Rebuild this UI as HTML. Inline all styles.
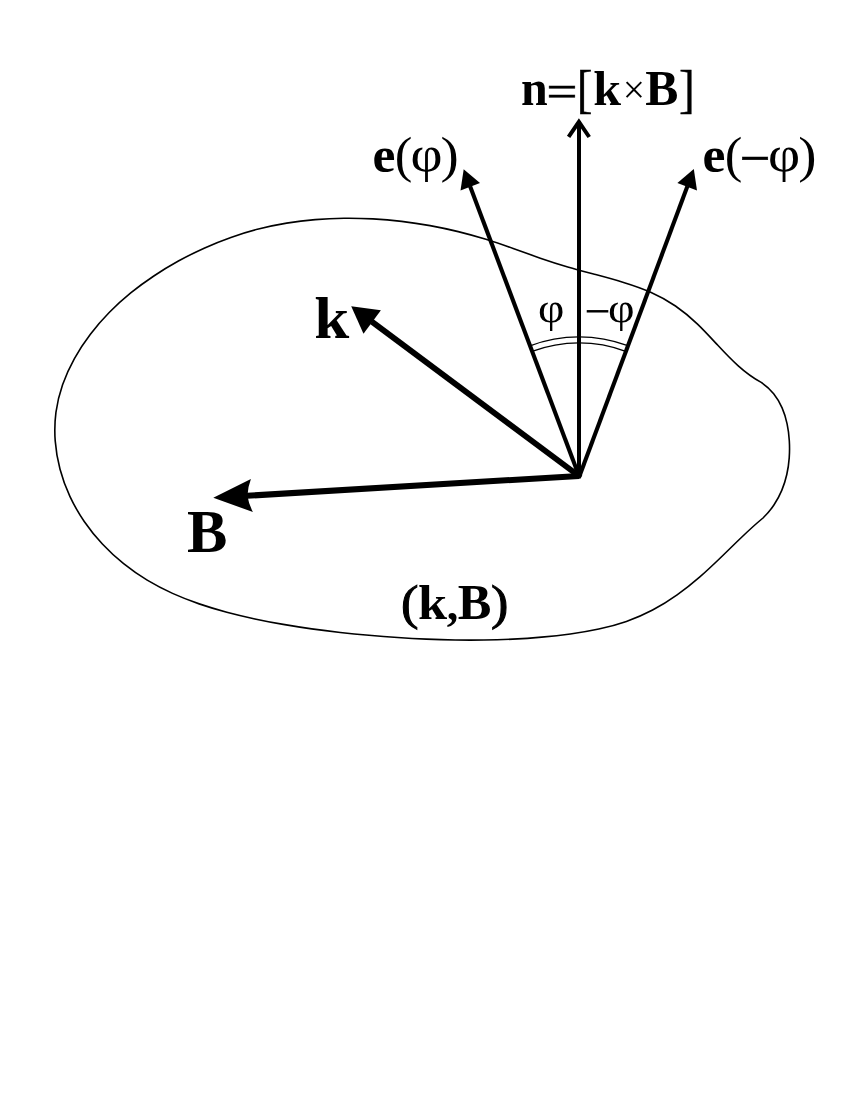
<!DOCTYPE html>
<html lang="en"><head><meta charset="utf-8"><title>Figure</title>
<style>
html,body{margin:0;padding:0;background:#fff;}
body{width:850px;height:1100px;overflow:hidden;}
svg{display:block;filter:grayscale(1);}
text{font-family:"Liberation Serif","DejaVu Serif",serif;fill:#000;}
</style></head><body>
<svg width="850" height="1100" viewBox="0 0 850 1100">
<rect width="850" height="1100" fill="#fff"/>
<path d="M763.00,518.00C755.60,524.13 748.55,530.60 741.63,537.21C734.70,543.82 727.90,550.56 721.02,557.24C714.13,563.92 707.14,570.53 699.85,576.87C692.56,583.21 684.98,589.27 677.10,594.87C669.23,600.47 661.06,605.60 652.60,610.07C644.15,614.55 635.39,618.31 626.39,621.42C617.39,624.53 608.16,627.03 598.79,629.06C589.42,631.10 579.91,632.69 570.35,633.98C560.78,635.28 551.18,636.30 541.59,637.15C531.99,638.00 522.39,638.66 512.79,639.14C503.19,639.62 493.59,639.92 483.99,640.07C474.39,640.21 464.79,640.20 455.19,640.04C445.59,639.89 436.00,639.59 426.41,639.17C416.82,638.75 407.23,638.21 397.65,637.56C388.07,636.91 378.50,636.15 368.94,635.30C359.37,634.45 349.82,633.51 340.28,632.44C330.74,631.37 321.21,630.19 311.70,628.86C302.20,627.52 292.71,626.04 283.24,624.40C273.77,622.75 264.33,620.93 254.92,618.91C245.50,616.89 236.11,614.69 226.80,612.22C217.49,609.74 208.27,606.99 199.20,603.88C190.13,600.77 181.22,597.30 172.53,593.38C163.84,589.45 155.37,585.07 147.19,580.16C139.02,575.24 131.13,569.76 123.62,563.72C116.12,557.68 109.00,551.10 102.40,544.03C95.80,536.97 89.71,529.42 84.25,521.46C78.79,513.49 73.96,505.11 69.89,496.37C65.82,487.63 62.50,478.53 60.03,469.23C57.55,459.93 55.92,450.44 55.21,440.92C54.50,431.40 54.72,421.86 55.94,412.46C57.17,403.06 59.43,393.81 62.57,384.80C65.70,375.79 69.71,367.02 74.41,358.56C79.10,350.10 84.49,341.97 90.39,334.23C96.29,326.49 102.69,319.15 109.44,312.28C116.19,305.41 123.31,298.98 130.72,292.95C138.14,286.92 145.86,281.28 153.83,275.98C161.79,270.68 169.99,265.72 178.39,261.07C186.79,256.43 195.39,252.12 204.15,248.17C212.91,244.22 221.84,240.63 230.90,237.44C239.96,234.24 249.16,231.44 258.46,229.05C267.76,226.67 277.16,224.71 286.64,223.15C296.11,221.59 305.65,220.42 315.23,219.61C324.81,218.81 334.43,218.37 344.05,218.25C353.67,218.14 363.30,218.36 372.90,218.88C382.50,219.40 392.07,220.22 401.61,221.35C411.14,222.47 420.64,223.89 430.08,225.60C439.52,227.32 448.90,229.32 458.21,231.61C467.53,233.90 476.77,236.47 485.92,239.33C495.07,242.18 504.13,245.32 513.17,248.53C522.21,251.74 531.23,255.03 540.30,258.16C549.38,261.30 558.52,264.24 567.76,266.92C576.99,269.59 586.31,272.06 595.64,274.56C604.96,277.05 614.32,279.57 623.56,282.40C632.81,285.23 641.91,288.38 650.64,292.22C659.36,296.05 667.66,300.63 675.47,306.00C683.27,311.37 690.60,317.48 697.53,324.13C704.45,330.79 711.00,337.95 717.60,345.06C724.19,352.17 730.84,359.21 737.97,365.63C745.09,372.04 752.70,377.82 761.20,382.40C766.09,385.63 770.21,389.47 773.66,393.76C777.10,398.05 779.88,402.80 782.09,407.86C784.30,412.91 785.93,418.28 787.10,423.81C788.28,429.34 788.98,435.03 789.31,440.74C789.65,446.45 789.63,452.17 789.22,457.82C788.81,463.48 788.02,469.07 786.79,474.52C785.56,479.97 783.90,485.29 781.77,490.40C779.64,495.51 777.03,500.41 773.92,505.04C770.81,509.66 767.18,514.00 763.00,518.00Z" fill="none" stroke="#000" stroke-width="1.6" stroke-linejoin="round"/>
<path d="M530.0,345.8 A139.1,139.1 0 0 1 627.8,345.7" fill="none" stroke="#000" stroke-width="1.4"/>
<path d="M532.1,351.4 A133.1,133.1 0 0 1 625.7,351.3" fill="none" stroke="#000" stroke-width="1.4"/>
<line x1="579.0" y1="476.0" x2="371.8" y2="321.7" stroke="#000" stroke-width="5.9"/><polygon points="351.2,306.3 380.9,310.2 363.5,333.7" fill="#000"/>
<line x1="579.0" y1="476.0" x2="246.9" y2="495.8" stroke="#000" stroke-width="6.0"/><path d="M213.3,497.8 L250.9,479.0 Q247.7,487.5 247.4,495.8 Q248.7,504.0 252.9,512.0Z" fill="#000"/>
<line x1="579.0" y1="476.0" x2="470.1" y2="186.3" stroke="#000" stroke-width="4.1"/><polygon points="463.7,169.3 480.0,183.1 460.5,190.5" fill="#000"/>
<line x1="579.5" y1="476.0" x2="687.4" y2="186.2" stroke="#000" stroke-width="4.1"/><polygon points="693.8,169.0 697.0,190.4 677.4,183.0" fill="#000"/>
<line x1="579" y1="476" x2="579" y2="121" stroke="#000" stroke-width="4"/>
<polygon points="576,479 580.7,478.6 582.3,475 579,473" fill="#000"/>
<polyline points="568.6,136.9 578.9,121.8 589.2,137" fill="none" stroke="#000" stroke-width="4" stroke-linejoin="miter"/>
<text><tspan x="521.01" y="104.90" font-size="50.30" textLength="26.72" lengthAdjust="spacingAndGlyphs" font-weight="bold">n</tspan><tspan x="546.57" y="106.37" font-size="44.80" textLength="30.91" lengthAdjust="spacingAndGlyphs" stroke="#000" stroke-width="0.6">=</tspan><tspan x="576.70" y="107.45" font-size="51.96" textLength="15.70" lengthAdjust="spacingAndGlyphs" stroke="#000" stroke-width="0.4">[</tspan><tspan x="593.15" y="104.90" font-size="48.57" textLength="27.82" lengthAdjust="spacingAndGlyphs" font-weight="bold">k</tspan><tspan x="622.77" y="103.26" font-size="40.03" textLength="22.32" lengthAdjust="spacingAndGlyphs">×</tspan><tspan x="645.28" y="104.75" font-size="51.24" textLength="33.11" lengthAdjust="spacingAndGlyphs" font-weight="bold">B</tspan><tspan x="678.88" y="107.45" font-size="51.96" textLength="15.85" lengthAdjust="spacingAndGlyphs" stroke="#000" stroke-width="0.4">]</tspan></text>
<text><tspan x="372.64" y="172.13" font-size="50.89" textLength="22.90" lengthAdjust="spacingAndGlyphs" font-weight="bold">e</tspan><tspan x="394.67" y="172.19" font-size="49.85" textLength="17.63" lengthAdjust="spacingAndGlyphs">(</tspan><tspan x="410.46" y="170.83" font-size="49.67" textLength="32.01" lengthAdjust="spacingAndGlyphs">φ</tspan><tspan x="440.63" y="172.19" font-size="49.85" textLength="18.28" lengthAdjust="spacingAndGlyphs">)</tspan></text>
<text><tspan x="702.64" y="172.13" font-size="50.89" textLength="22.90" lengthAdjust="spacingAndGlyphs" font-weight="bold">e</tspan><tspan x="724.67" y="172.19" font-size="49.85" textLength="17.63" lengthAdjust="spacingAndGlyphs">(</tspan><tspan x="739.57" y="177.29" font-size="56.00" textLength="30.91" lengthAdjust="spacingAndGlyphs" stroke="#000" stroke-width="0.5">−</tspan><tspan x="768.05" y="170.83" font-size="49.67" textLength="32.12" lengthAdjust="spacingAndGlyphs">φ</tspan><tspan x="798.23" y="172.19" font-size="49.85" textLength="18.28" lengthAdjust="spacingAndGlyphs">)</tspan></text>
<text><tspan x="314.33" y="337.70" font-size="58.51" textLength="34.96" lengthAdjust="spacingAndGlyphs" font-weight="bold">k</tspan></text>
<text><tspan x="186.89" y="551.82" font-size="61.42" textLength="40.39" lengthAdjust="spacingAndGlyphs" font-weight="bold">B</tspan></text>
<text><tspan x="400.99" y="618.62" font-size="48.31" textLength="17.50" lengthAdjust="spacingAndGlyphs" stroke="#000" stroke-width="1.0">(</tspan><tspan x="418.00" y="619.00" font-size="48.14" textLength="29.08" lengthAdjust="spacingAndGlyphs" font-weight="bold">k</tspan><tspan x="446.89" y="619.87" font-size="46.06" textLength="11.57" lengthAdjust="spacingAndGlyphs" font-weight="bold">,</tspan><tspan x="457.66" y="618.85" font-size="50.78" textLength="33.64" lengthAdjust="spacingAndGlyphs" font-weight="bold">B</tspan><tspan x="490.92" y="618.62" font-size="48.31" textLength="17.37" lengthAdjust="spacingAndGlyphs" stroke="#000" stroke-width="1.0">)</tspan></text>
<text><tspan x="538.04" y="322.04" font-size="41.63" textLength="26.34" lengthAdjust="spacingAndGlyphs">φ</tspan></text>
<text><tspan x="584.29" y="327.60" font-size="50.00" textLength="26.18" lengthAdjust="spacingAndGlyphs">−</tspan><tspan x="608.12" y="322.04" font-size="41.63" textLength="26.57" lengthAdjust="spacingAndGlyphs">φ</tspan></text>
</svg>
</body></html>
